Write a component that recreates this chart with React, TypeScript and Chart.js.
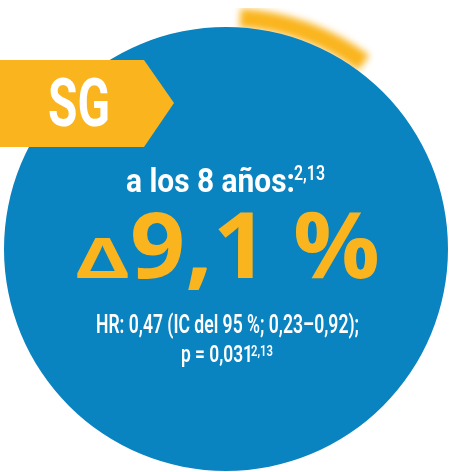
import React, { useEffect, useRef } from 'react';
import { Chart, ArcElement, DoughnutController } from 'chart.js';

Chart.register(ArcElement, DoughnutController);

// yellow halo ring: empty gap, arc, rest (degrees, clockwise from top)
const ringLabels = ['gap', 'arc', 'rest'];
const ringDegrees = [3.5, 33, 323.5];
// blue disc
const discLabels = ['SG'];
const discValues = [100];
// ring thickness vs disc radius (px at 241 outer radius)
const ringWeights = [19, 222];

const BLUE = '#0A83C1';
const YELLOW = '#FAB51E';

const headline = 'a los 8 años:';
const headlineRefs = '2,13';
const deltaValue = '9,1 %';
const statsLine = 'HR: 0,47 (IC del 95 %; 0,23–0,92);';
const pLine = 'p = 0,031';
const pRefs = '2,13';

// blur only the halo ring
const blurRing = {
  id: 'blurRing',
  beforeDatasetDraw(chart: any, args: any) {
    if (args.index === 0) {
      chart.ctx.save();
      chart.ctx.filter = 'blur(3.5px)';
    }
  },
  afterDatasetDraw(chart: any, args: any) {
    if (args.index === 0) chart.ctx.restore();
  },
};

const condensed = '"Roboto", "DejaVu Sans", sans-serif';
const heavy = '"Open Sans", "DejaVu Sans", sans-serif';

export default function App() {
  const canvasRef = useRef<HTMLCanvasElement>(null);

  useEffect(() => {
    if (!canvasRef.current) return;
    const chart = new Chart(canvasRef.current, {
      type: 'doughnut',
      data: {
        labels: ringLabels,
        datasets: [
          {
            data: ringDegrees,
            backgroundColor: ['rgba(0,0,0,0)', YELLOW, 'rgba(0,0,0,0)'],
            borderWidth: 0,
            weight: ringWeights[0],
            order: 1,
          },
          {
            label: discLabels[0],
            data: discValues,
            backgroundColor: [BLUE],
            borderWidth: 0,
            weight: ringWeights[1],
            order: 0,
          },
        ],
      },
      plugins: [blurRing],
      options: {
        animation: false,
        responsive: true,
        maintainAspectRatio: false,
        cutout: 0,
        events: [],
        layout: { padding: 0 },
      },
    });
    return () => chart.destroy();
  }, []);

  return (
    <div style={{ position: 'absolute', left: 0, top: 0, width: 449, height: 472, overflow: 'hidden', background: '#fff' }}>
      <div style={{ position: 'absolute', left: -15, top: 8, width: 482, height: 482 }}>
        <canvas ref={canvasRef}></canvas>
      </div>
      <svg width={449} height={472} style={{ position: 'absolute', left: 0, top: 0 }}>
        <polygon points="0,60 144,60 174,103 144,147 0,147" fill={YELLOW} />
        <text x={48} y={126} fill="#fff" fontFamily={condensed} fontWeight={700} fontSize={67} textLength={62} lengthAdjust="spacingAndGlyphs">SG</text>

        <text x={126} y={192} fill="#fff" fontFamily={condensed} fontWeight={700} fontSize={33} textLength={169} lengthAdjust="spacingAndGlyphs">{headline}</text>
        <text x={294} y={180} fill="#fff" fontFamily={condensed} fontWeight={600} fontSize={19.5} textLength={31} lengthAdjust="spacingAndGlyphs">{headlineRefs}</text>

        <text x={75} y={278} fill={YELLOW} fontFamily={heavy} fontWeight={700} fontSize={56} textLength={55} lengthAdjust="spacingAndGlyphs">Δ</text>
        <text x={130} y={278} fill={YELLOW} fontFamily={heavy} fontWeight={700} fontSize={91} textLength={250} lengthAdjust="spacingAndGlyphs">{deltaValue}</text>

        <text x={96} y={333} fill="#fff" fontFamily={condensed} fontWeight={600} fontSize={25} textLength={263} lengthAdjust="spacingAndGlyphs">{statsLine}</text>
        <text x={181} y={362} fill="#fff" fontFamily={condensed} fontWeight={600} fontSize={24} textLength={72} lengthAdjust="spacingAndGlyphs">{pLine}</text>
        <text x={251} y={356} fill="#fff" fontFamily={condensed} fontWeight={600} fontSize={14} textLength={22} lengthAdjust="spacingAndGlyphs">{pRefs}</text>
      </svg>
    </div>
  );
}
